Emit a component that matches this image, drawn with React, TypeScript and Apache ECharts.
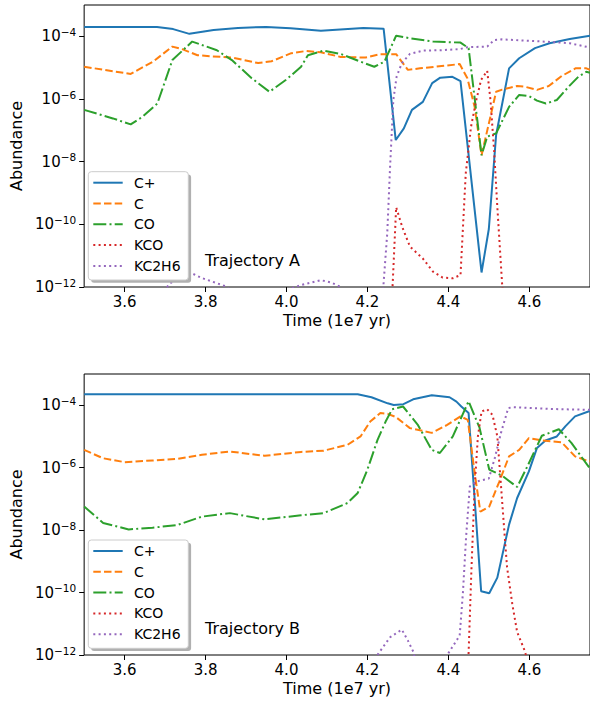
import React, { useEffect, useRef } from 'react';
import * as echarts from 'echarts';

type Pt = [number, number];

const X_TICKS = [3.6, 3.8, 4.0, 4.2, 4.4, 4.6];
const Y_TICKS = [1e-12, 1e-10, 1e-8, 1e-6, 1e-4];
const SPECIES = ['C+', 'C', 'CO', 'KCO', 'KC2H6'];
const PANEL_LABELS = ['Trajectory A', 'Trajectory B'];
const X_NAME = 'Time (1e7 yr)';
const Y_NAME = 'Abundance';

// ---------- Trajectory A ----------
const A_CPLUS: Pt[] = [
  [3.50, 2.0e-4], [3.68, 2.0e-4], [3.72, 1.7e-4], [3.76, 1.2e-4], [3.82, 1.6e-4],
  [3.88, 1.85e-4], [3.95, 2.0e-4], [4.01, 1.8e-4], [4.085, 1.5e-4], [4.19, 1.85e-4],
  [4.24, 1.75e-4], [4.27, 4.9e-8], [4.29, 1.15e-7], [4.31, 4.5e-7], [4.337, 8.1e-7],
  [4.36, 3.2e-6], [4.38, 4.8e-6], [4.41, 5.1e-6], [4.43, 3.7e-6], [4.482, 2.9e-12],
  [4.50, 7.1e-11], [4.518, 7.1e-8], [4.55, 9.5e-6], [4.575, 2.0e-5], [4.614, 4.2e-5],
  [4.65, 6.0e-5], [4.70, 8.2e-5], [4.75, 1.05e-4],
];
const A_C: Pt[] = [
  [3.50, 1.07e-5], [3.55, 8.5e-6], [3.615, 6.3e-6], [3.67, 1.55e-5], [3.718, 4.7e-5],
  [3.742, 3.9e-5], [3.78, 2.5e-5], [3.816, 2.3e-5], [3.865, 2.1e-5], [3.93, 1.4e-5],
  [3.963, 1.6e-5], [4.012, 2.9e-5], [4.048, 3.4e-5], [4.085, 3.1e-5], [4.134, 2.2e-5],
  [4.195, 2.1e-5], [4.232, 2.7e-5], [4.271, 2.7e-5], [4.30, 8.5e-6], [4.33, 9.5e-6],
  [4.428, 1.3e-5], [4.447, 4.6e-6], [4.465, 5.6e-7], [4.482, 1.6e-8], [4.504, 2.75e-7],
  [4.518, 1.7e-6], [4.533, 2.0e-6], [4.57, 2.6e-6], [4.59, 2.45e-6], [4.619, 1.95e-6],
  [4.648, 2.6e-6], [4.68, 5.4e-6], [4.714, 9.5e-6], [4.741, 9.5e-6], [4.75, 8.5e-6],
];
const A_CO: Pt[] = [
  [3.50, 4.5e-7], [3.571, 2.4e-7], [3.615, 1.55e-7], [3.644, 2.7e-7], [3.681, 7.2e-7],
  [3.718, 1.75e-5], [3.767, 6.8e-5], [3.828, 3.6e-5], [3.865, 1.75e-5], [3.914, 4.6e-6],
  [3.958, 1.7e-6], [3.999, 4.1e-6], [4.036, 1.07e-5], [4.053, 2.5e-5], [4.092, 3.5e-5],
  [4.134, 2.75e-5], [4.183, 1.55e-5], [4.217, 1.07e-5], [4.242, 1.55e-5], [4.271, 1.05e-4],
  [4.305, 8.7e-5], [4.362, 6.8e-5], [4.43, 6.3e-5], [4.45, 4.2e-5], [4.482, 1.6e-8],
  [4.496, 6.3e-8], [4.518, 8.0e-8], [4.55, 5.6e-7], [4.575, 1.35e-6], [4.599, 1.25e-6],
  [4.619, 8.9e-7], [4.641, 7.2e-7], [4.668, 9.3e-7], [4.697, 2.45e-6], [4.721, 5.1e-6],
  [4.741, 7.4e-6], [4.75, 6.8e-6],
];
const A_KCO: Pt[] = [
  [4.255, 1e-14], [4.271, 3.5e-10], [4.286, 8.3e-11], [4.305, 1.95e-11], [4.337, 8.1e-12],
  [4.362, 3.1e-12], [4.386, 2.0e-12], [4.411, 1.9e-12], [4.43, 2.4e-12], [4.443, 4.3e-9],
  [4.456, 1.3e-7], [4.469, 9.3e-7], [4.481, 4.1e-6], [4.496, 7.9e-6], [4.504, 9.3e-7],
  [4.513, 2.3e-8], [4.521, 3.6e-10], [4.533, 1.15e-12], [4.545, 1e-14],
];
const A_KC2H6: Pt[] = [
  [3.68, 1e-14], [3.70, 8e-13], [3.71, 1.25e-12], [3.76, 3.0e-12], [3.79, 1.95e-12],
  [3.85, 1.05e-12], [3.87, 6e-13], [3.90, 1e-14], [3.98, 1e-14], [4.00, 8e-13],
  [4.036, 1.15e-12], [4.085, 1.65e-12], [4.11, 1.4e-12], [4.134, 1.0e-12], [4.15, 6e-13],
  [4.18, 1e-14], [4.225, 1e-14], [4.239, 9e-13], [4.249, 5.2e-11], [4.256, 6.9e-9],
  [4.264, 9.3e-7], [4.272, 5.1e-6], [4.285, 1.4e-5], [4.305, 2.75e-5], [4.337, 3.5e-5],
  [4.379, 3.6e-5], [4.428, 3.9e-5], [4.447, 4.5e-5], [4.496, 4.7e-5], [4.513, 7.6e-5],
  [4.533, 8.0e-5], [4.663, 6.5e-5], [4.70, 6.0e-5], [4.75, 4.4e-5],
];

// ---------- Trajectory B ----------
const B_CPLUS: Pt[] = [
  [3.50, 2.25e-4], [4.176, 2.25e-4], [4.21, 1.8e-4], [4.25, 1.15e-4], [4.265, 1.02e-4],
  [4.289, 1.08e-4], [4.313, 1.55e-4], [4.359, 2.1e-4], [4.403, 1.8e-4], [4.42, 1.3e-4],
  [4.432, 9.1e-5], [4.45, 5.6e-5], [4.481, 1.1e-10], [4.501, 9.5e-11], [4.521, 3.0e-10],
  [4.55, 1.5e-8], [4.57, 1.07e-7], [4.599, 7.6e-7], [4.619, 4.3e-6], [4.64, 7.4e-6],
  [4.668, 1.0e-5], [4.689, 2.1e-5], [4.713, 4.4e-5], [4.746, 6.3e-5], [4.75, 6.4e-5],
];
const B_C: Pt[] = [
  [3.50, 3.7e-6], [3.547, 2.0e-6], [3.60, 1.5e-6], [3.669, 1.7e-6], [3.73, 1.9e-6],
  [3.791, 2.6e-6], [3.86, 3.3e-6], [3.946, 2.4e-6], [4.036, 3.2e-6], [4.092, 3.5e-6],
  [4.151, 5.4e-6], [4.183, 1.0e-5], [4.207, 3.0e-5], [4.232, 5.6e-5], [4.25, 5.3e-5],
  [4.27, 4.2e-5], [4.305, 1.85e-5], [4.359, 1.3e-5], [4.396, 2.3e-5], [4.43, 4.4e-5],
  [4.448, 3.4e-5], [4.465, 6.8e-7], [4.479, 3.9e-8], [4.501, 5.7e-8], [4.526, 3.6e-7],
  [4.55, 2.3e-6], [4.575, 3.7e-6], [4.599, 8.9e-6], [4.632, 7.4e-6], [4.68, 6.5e-6],
  [4.713, 2.3e-6], [4.746, 1.6e-6], [4.75, 1.6e-6],
];
const B_CO: Pt[] = [
  [3.50, 5.7e-8], [3.547, 1.7e-8], [3.61, 1.05e-8], [3.669, 1.2e-8], [3.73, 1.45e-8],
  [3.791, 2.7e-8], [3.86, 3.5e-8], [3.946, 2.2e-8], [4.036, 3.0e-8], [4.092, 3.5e-8],
  [4.151, 7.4e-8], [4.176, 1.55e-7], [4.20, 8.7e-7], [4.225, 7.8e-6], [4.245, 3.0e-5],
  [4.261, 7.4e-5], [4.288, 9.1e-5], [4.325, 2.3e-5], [4.359, 3.7e-6], [4.379, 2.95e-6],
  [4.411, 1.0e-5], [4.45, 1.35e-4], [4.477, 1.9e-5], [4.501, 8.7e-7], [4.533, 5.5e-7],
  [4.57, 2.4e-7], [4.596, 1.15e-6], [4.631, 1.05e-5], [4.673, 1.7e-5], [4.704, 6.2e-6],
  [4.746, 1.1e-6], [4.75, 1.0e-6],
];
const B_KCO: Pt[] = [
  [4.44, 1e-14], [4.45, 1.15e-12], [4.457, 5.5e-10], [4.465, 2.5e-7], [4.473, 1.0e-5],
  [4.482, 6.3e-5], [4.496, 7.4e-5], [4.509, 4.9e-5], [4.521, 1.0e-5], [4.53, 2.7e-7],
  [4.538, 1.05e-8], [4.545, 6.5e-10], [4.558, 4.3e-11], [4.57, 5.4e-12], [4.587, 1.55e-12],
  [4.594, 8e-13], [4.61, 1e-14],
];
const B_KC2H6: Pt[] = [
  [4.20, 1e-14], [4.222, 9e-13], [4.256, 3.7e-12], [4.285, 6.5e-12], [4.30, 2.9e-12],
  [4.315, 1.15e-12], [4.33, 1e-14], [4.38, 1e-14], [4.395, 9e-13], [4.428, 4.2e-12],
  [4.436, 1.0e-10], [4.444, 6.5e-9], [4.453, 2.5e-7], [4.469, 3.6e-7], [4.50, 4.5e-7],
  [4.515, 2.1e-6], [4.53, 1.3e-5], [4.548, 8.1e-5], [4.56, 8.7e-5], [4.65, 7.6e-5],
  [4.75, 7.1e-5],
];

const PANEL_DATA: Pt[][][] = [
  [A_CPLUS, A_C, A_CO, A_KCO, A_KC2H6],
  [B_CPLUS, B_C, B_CO, B_KCO, B_KC2H6],
];

const COLORS = ['#1f77b4', '#ff7f0e', '#2ca02c', '#d62728', '#9467bd'];
const DASHES: any[] = ['solid', [7.5, 3.2], [13, 3.2, 2, 3.2], [2, 3.3], [2, 3.3]];
const FONT = 'DejaVu Sans';

const GRIDS = [
  { left: 81, top: 5, width: 511, height: 282 },
  { left: 81, top: 374, width: 511, height: 281 },
];
const PANEL_DY = [0, 368.3];

function buildOption() {
  const grid = GRIDS.map((g) => ({
    ...g,
    show: true,
    borderColor: '#000',
    borderWidth: 1,
    backgroundColor: 'transparent',
    containLabel: false,
  }));

  const xAxis = GRIDS.map((_, i) => ({
    type: 'value',
    gridIndex: i,
    min: 3.5,
    max: 4.75,
    name: X_NAME,
    nameLocation: 'middle',
    nameGap: 25,
    nameTextStyle: { fontSize: 16, color: '#000', fontFamily: FONT },
    axisLine: { show: false },
    axisTick: {
      show: true,
      inside: false,
      length: 5,
      lineStyle: { color: '#000', width: 1 },
      customValues: X_TICKS,
    },
    axisLabel: {
      customValues: X_TICKS,
      formatter: (v: number) => v.toFixed(1),
      fontSize: 15,
      color: '#000',
      margin: 7,
      fontFamily: FONT,
    },
    splitLine: { show: false },
  }));

  const yAxis = GRIDS.map((_, i) => ({
    type: 'log',
    logBase: 10,
    gridIndex: i,
    min: 1e-12,
    max: 1e-3,
    name: Y_NAME,
    nameLocation: 'middle',
    nameGap: 57,
    nameRotate: 90,
    nameTextStyle: { fontSize: 16, color: '#000', fontFamily: FONT },
    axisLine: { show: false },
    axisTick: {
      show: true,
      inside: false,
      length: 5,
      lineStyle: { color: '#000', width: 1 },
      customValues: Y_TICKS,
    },
    minorTick: { show: false },
    axisLabel: {
      customValues: Y_TICKS,
      margin: 8,
      formatter: (v: number) => {
        const e = Math.round(Math.log10(v));
        return '{b|10}{s|\u2212' + Math.abs(e) + '}';
      },
      rich: {
        b: { fontSize: 15, color: '#000', fontFamily: FONT },
        s: { fontSize: 10.5, color: '#000', fontFamily: FONT, padding: [0, 0, 9, 0] },
      },
    },
    splitLine: { show: false },
  }));

  const series: any[] = [];
  PANEL_DATA.forEach((panel, p) => {
    panel.forEach((data, i) => {
      series.push({
        type: 'line',
        name: SPECIES[i],
        xAxisIndex: p,
        yAxisIndex: p,
        data,
        showSymbol: false,
        symbol: 'none',
        clip: true,
        z: 2 + i,
        lineStyle: { color: COLORS[i], width: 2, type: DASHES[i], cap: 'butt' },
        itemStyle: { color: COLORS[i] },
        emphasis: { disabled: true },
      });
    });
  });

  const graphic: any[] = [];
  PANEL_DY.forEach((dy, p) => {
    const bx = 88.3;
    const by = 171.7 + dy;
    const bw = 100;
    const bh = 108.3;
    graphic.push({
      type: 'rect',
      z: 100,
      silent: true,
      shape: { x: bx + 2.8, y: by + 2.8, width: bw, height: bh, r: 3 },
      style: { fill: '#b0b0b0' },
    });
    graphic.push({
      type: 'rect',
      z: 101,
      silent: true,
      shape: { x: bx, y: by, width: bw, height: bh, r: 3 },
      style: { fill: '#fff', stroke: '#cccccc', lineWidth: 1 },
    });
    SPECIES.forEach((name, i) => {
      const cy = 182.7 + i * 20.8 + dy;
      const dash = DASHES[i];
      graphic.push({
        type: 'line',
        z: 102,
        silent: true,
        shape: { x1: 93.3, y1: cy, x2: 122.7, y2: cy },
        style: {
          stroke: COLORS[i],
          lineWidth: 2,
          lineDash: dash === 'solid' ? null : dash,
          lineCap: 'butt',
        },
      });
      graphic.push({
        type: 'text',
        z: 102,
        silent: true,
        style: {
          text: name,
          x: 134,
          y: cy,
          fill: '#000',
          font: '14px "DejaVu Sans"',
          textAlign: 'left',
          textVerticalAlign: 'middle',
          align: 'left',
          verticalAlign: 'middle',
        },
      });
    });
    graphic.push({
      type: 'text',
      z: 102,
      silent: true,
      style: {
        text: PANEL_LABELS[p],
        x: 205,
        y: 260 + dy,
        fill: '#000',
        font: '16px "DejaVu Sans"',
        textAlign: 'left',
        textVerticalAlign: 'middle',
        align: 'left',
        verticalAlign: 'middle',
      },
    });
  });

  return {
    animation: false,
    backgroundColor: '#fff',
    textStyle: { fontFamily: FONT },
    grid,
    xAxis,
    yAxis,
    series,
    graphic,
  };
}

export default function App() {
  const ref = useRef<HTMLDivElement>(null);
  useEffect(() => {
    if (!ref.current) return;
    const chart = echarts.init(ref.current, undefined, { renderer: 'svg' });
    chart.setOption(buildOption() as any);
    return () => chart.dispose();
  }, []);
  return (
    <div
      ref={ref}
      style={{ position: 'absolute', left: 0, top: 0, width: 590, height: 702 }}
    />
  );
}
